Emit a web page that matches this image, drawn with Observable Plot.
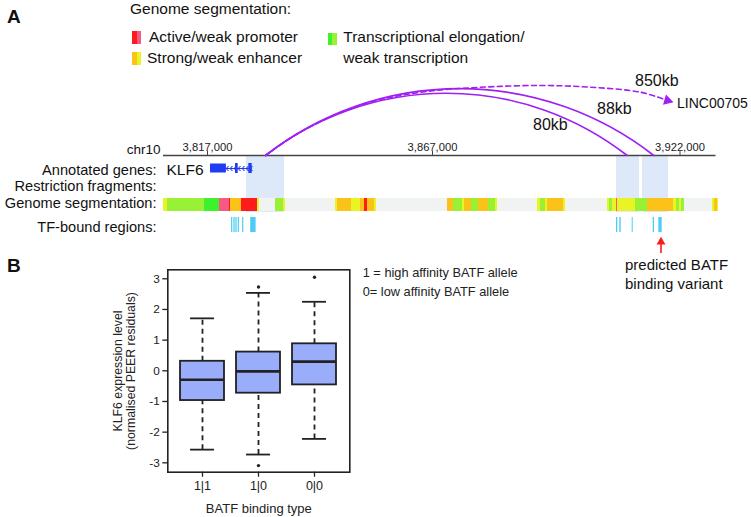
<!DOCTYPE html>
<html><head><meta charset="utf-8">
<script src="https://cdn.jsdelivr.net/npm/d3@7"></script>
<script src="https://cdn.jsdelivr.net/npm/@observablehq/plot@0.6"></script>
<style>
html,body{margin:0;padding:0;background:#fff;}
#root{position:relative;width:751px;height:517px;overflow:hidden;background:#fff;font-family:"Liberation Sans",Arial,Helvetica,sans-serif;}
#root svg{position:absolute;}
.lbl{position:absolute;white-space:nowrap;line-height:1;color:#111;}
</style></head><body><div id="root"></div>
<script>
// ================= DATA =================
// Panel A: genomic locus chr10
const chrom = "chr10";
const axisTicks = [3817000, 3867000, 3922000];
const viewStart = 3807222, viewEnd = 3930000;
const trackNames = ["Annotated genes:", "Restriction fragments:", "Genome segmentation:", "TF-bound regions:"];

const geneName = "KLF6";
const geneStart = 3817670, geneEnd = 3826930;
const exonStart = [3817670, 3823220, 3826180];
const exonEnd   = [3821200, 3823820, 3826930];

const fragStart = [3825670, 3907890, 3913670];
const fragEnd   = [3834110, 3913000, 3919440];

const segStart = [3807160,3808040,3816330,3819730,3821890,3822110,3824560,3828040,3828560,3832110,3833960,3834400,3845440,3845960,3849000,3851000,3851960,3852490,3854180,3854490,3870270,3871730,3873600,3874180,3875670,3877290,3879380,3881000,3881440,3890400,3891000,3892110,3892490,3896040,3896560,3905820,3906330,3906930,3907890,3908180,3912110,3914710,3920490,3921220,3921960,3922270,3923000,3929160,3929670,3930300];
const segEnd   = [3808040,3816330,3819730,3821890,3822110,3824560,3828040,3828560,3832110,3833960,3834400,3845440,3845960,3849000,3851000,3851960,3852490,3854180,3854490,3870270,3871730,3873600,3874180,3875670,3877290,3879380,3881000,3881440,3890400,3891000,3892110,3892490,3896040,3896560,3905820,3906330,3906930,3907890,3908180,3912110,3914710,3920490,3921220,3921960,3922270,3923000,3929160,3929670,3930300,3930560];
const segState = ["EW","TW","T","PW","PA","ES","PA","EW","Q","TW","EW","Q","EW","ES","EW","ES","PA","ES","EW","Q","ES","TW","EW","ES","TW","ES","TW","EW","Q","EW","TW","EW","ES","EW","Q","EW","TW","EW","PW","EW","TW","ES","EW","TW","EW","TW","Q","EW","ES","EW"];
const stateCodes  = ["PA","PW","ES","EW","T","TW","Q"];
const stateColors = ["#fe1b1b","#f65a84","#fbc31a","#e9f424","#3df22c","#98f135","#f1f3f3"];

const tfStart = [3822350,3822870,3823310,3823830,3824800,3826600,3907890,3908620,3911380,3916040,3917290];
const tfEnd   = [3822620,3823140,3823580,3824100,3825070,3827800,3908180,3908930,3911600,3916330,3918040];

const linkStart = 3829890;
const linkEnd   = [3910270, 3916180];
const linkLabels = ["80kb", "88kb"];
// dashed long-range link (850kb, leaves the view): path
const longLinkX = [3829890, 3837670, 3851000, 3864330, 3877670, 3891000, 3902110, 3913220, 3919220];
const longLinkH = [155, 131.5, 104.6, 91.8, 86.8, 85, 86.7, 91.7, 100];
const longLinkLabel = "850kb";
const longLinkTarget = "LINC00705";
const variantPos = 3917780;
const variantLabel = ["predicted BATF", "binding variant"];

const legendTitle = "Genome segmentation:";
const legendLabels = ["Active/weak promoter", "Strong/weak enhancer", "Transcriptional elongation/\nweak transcription"];
const legendStates = [["PA","PW"], ["ES","EW"], ["T","TW"]];

// Panel B: boxplot
const categories  = ["1|1", "1|0", "0|0"];
const whiskerLow  = [-2.57, -2.73, -2.22];
const quartile1   = [-0.97, -0.73, -0.46];
const medians     = [-0.29, -0.02, 0.30];
const quartile3   = [0.31, 0.61, 0.88];
const whiskerHigh = [1.71, 2.54, 2.25];
const outlierGroup = ["1|0", "1|0", "0|0"];
const outlierValue = [2.73, -3.09, 3.05];
const yTicks = [-3, -2, -1, 0, 1, 2, 3];
const yLabelLines = ["KLF6 expression level", "(normalised PEER residuals)"];
const xLabel = "BATF binding type";
const alleleNotes = ["1 = high affinity BATF allele", "0= low affinity BATF allele"];

// ================= LAYOUT / STYLE =================
const FONT = '"Liberation Sans", Arial, Helvetica, sans-serif';
const PURPLE = "#a01ff2";
const LA = {axisY:155, tickTop:151, tickLabelY:150.5, geneY:168, geneTop:163.5, geneBottom:172.5, exonTop:163, exonBottom:173,
  fragTop:156, fragBottom:212, segTop:198, segBottom:211, tfTop:217, tfBottom:232,
  trackLabelY:[174, 190.7, 207.3, 231], varTipY:241.5, varBottomY:253};

const root = document.getElementById("root");
function addText(txt, x, baseline, size, o = {}) {
  const d = document.createElement("div");
  d.className = "lbl";
  d.textContent = txt;
  d.style.fontSize = size + "px";
  d.style.top = (baseline - 0.8465 * size) + "px";
  if (o.weight) d.style.fontWeight = o.weight;
  if (o.color) d.style.color = o.color;
  if (o.anchor === "end") d.style.right = (751 - x) + "px";
  else if (o.anchor === "middle") { d.style.left = x + "px"; d.style.transform = "translateX(-50%)"; }
  else d.style.left = x + "px";
  root.appendChild(d);
  return d;
}
function addSwatch(x, y, colors) {
  colors.forEach((c, i) => {
    const s = document.createElement("div");
    s.style.cssText = `position:absolute;left:${x + i * 4.6}px;top:${y}px;width:4.6px;height:12.6px;background:${c}`;
    root.appendChild(s);
  });
}
const colorOf = s => stateColors[stateCodes.indexOf(s)];

// ================= PANEL A =================
const segData = segStart.map((s, i) => ({start: s, end: segEnd[i], state: segState[i]}));
const fragData = fragStart.map((s, i) => ({start: s, end: fragEnd[i]}));
const tfData = tfStart.map((s, i) => ({start: s, end: tfEnd[i]}));
const exonData = exonStart.map((s, i) => ({start: s, end: exonEnd[i], thick: i === 0}));
const linkData = linkEnd.map((e, i) => ({start: linkStart, end: e, label: linkLabels[i]}));
const longPath = longLinkX.map((x, i) => ({x, h: longLinkH[i]}));
const longTip = [longPath[longPath.length - 1]];

const plotA = Plot.plot({
  width: 751, height: 300, margin: 0,
  x: {domain: [viewStart, viewEnd], range: [163, 715.5], axis: null},
  y: {type: "linear", domain: [0, 300], range: [0, 300], axis: null},
  style: {background: "transparent", overflow: "visible", fontFamily: FONT},
  marks: [
    Plot.rect(fragData, {x1: "start", x2: "end", y1: LA.fragTop, y2: LA.fragBottom, fill: "#dde8f9"}),
    Plot.ruleY([LA.axisY], {x1: viewStart, x2: viewEnd, stroke: "#444", strokeWidth: 1.3}),
    Plot.ruleX(axisTicks, {x: d => d, y1: LA.tickTop, y2: LA.axisY, stroke: "#444", strokeWidth: 1}),
    Plot.text(axisTicks, {x: d => d, y: LA.tickLabelY, text: d => d3.format(",")(d), fontSize: 11.2, lineAnchor: "bottom", fill: "#222"}),
    Plot.text([chrom], {x: viewStart, y: 153, dx: -3, textAnchor: "end", lineAnchor: "bottom", fontSize: 13.5, fill: "#111"}),
    Plot.arrow(linkData, {x1: "start", x2: "end", y1: LA.axisY, y2: LA.axisY, bend: 38, headLength: 0, stroke: PURPLE, strokeWidth: 1.6}),
    Plot.line(longPath, {x: "x", y: "h", curve: "catmull-rom", stroke: PURPLE, strokeWidth: 1.6, strokeDasharray: "5,3.5"}),
    Plot.dot(longTip, {x: "x", y: "h", symbol: "triangle", r: 4, rotate: 106, fill: PURPLE, stroke: "none"}),
    // gene
    Plot.ruleY([LA.geneY], {x1: geneStart, x2: geneEnd, stroke: "#1f3cf0", strokeWidth: 1.2}),
    Plot.rect(exonData, {x1: "start", x2: "end", y1: d => d.thick ? LA.geneTop : LA.exonTop, y2: d => d.thick ? LA.geneBottom : LA.exonBottom, fill: "#1f3cf0"}),
    Plot.text(["‹‹‹‹‹‹‹"], {x: (exonEnd[0] + geneEnd) / 2, y: LA.geneY, fontSize: 12, fill: "#1f3cf0"}),
    Plot.text([geneName], {x: geneStart, y: 174.3, dx: -7, textAnchor: "end", lineAnchor: "bottom", fontSize: 15.5, fill: "#111"}),
    // segmentation
    Plot.rect(segData, {x1: "start", x2: "end", y1: LA.segTop, y2: LA.segBottom, fill: d => colorOf(d.state), shapeRendering: "crispEdges"}),
    // TF
    Plot.rect(tfData, {x1: "start", x2: "end", y1: LA.tfTop, y2: LA.tfBottom, fill: "#4dcdf4"}),
    // variant arrow
    Plot.ruleX([variantPos], {x: d => d, y1: LA.varTipY + 2, y2: LA.varBottomY, stroke: "#ff1a1a", strokeWidth: 1.6}),
    Plot.dot([variantPos], {x: d => d, y: LA.varTipY, symbol: "triangle", r: 3.3, fill: "#ff1a1a", stroke: "none"}),
    // track labels
    Plot.text(trackNames, {x: viewStart, y: (d, i) => LA.trackLabelY[i], dx: -7, textAnchor: "end", lineAnchor: "bottom", fontSize: 14.6, fill: "#111"})
  ]
});
plotA.style.left = "0px"; plotA.style.top = "0px";
root.appendChild(plotA);

// ================= PANEL B =================
const boxData = categories.map((c, i) => ({cat: c, lo: whiskerLow[i], q1: quartile1[i], med: medians[i], q3: quartile3[i], hi: whiskerHigh[i]}));
const outliers = outlierGroup.map((g, i) => ({cat: g, v: outlierValue[i]}));
const BK = "#222";
const plotB = Plot.plot({
  width: 751, height: 267,
  marginLeft: 167.3, marginRight: 401.7, marginTop: 19.3, marginBottom: 45.3,
  x: {domain: categories, paddingInner: 0.214, paddingOuter: 0.232, axis: null},
  y: {domain: [-3.306, 3.293], axis: null},
  style: {background: "transparent", overflow: "visible", fontFamily: FONT, color: BK},
  marks: [
    Plot.ruleX(boxData, {x: "cat", y1: "q3", y2: "hi", stroke: BK, strokeWidth: 1.8, strokeDasharray: "5,4"}),
    Plot.ruleX(boxData, {x: "cat", y1: "lo", y2: "q1", stroke: BK, strokeWidth: 1.8, strokeDasharray: "5,4"}),
    Plot.tickY(boxData, {x: "cat", y: "hi", insetLeft: 10, insetRight: 10, stroke: BK, strokeWidth: 1.8}),
    Plot.tickY(boxData, {x: "cat", y: "lo", insetLeft: 10, insetRight: 10, stroke: BK, strokeWidth: 1.8}),
    Plot.barY(boxData, {x: "cat", y1: "q1", y2: "q3", fill: "#99adfb", stroke: BK, strokeWidth: 1.8}),
    Plot.tickY(boxData, {x: "cat", y: "med", stroke: BK, strokeWidth: 2.6}),
    Plot.dot(outliers, {x: "cat", y: "v", r: 1.7, fill: BK, stroke: "none"}),
    Plot.frame({stroke: BK, strokeWidth: 1.6}),
    Plot.axisY({ticks: yTicks, tickSize: 5, tickPadding: 3, fontSize: 11.8, label: null, tickFormat: d => String(d), stroke: BK, strokeWidth: 1.3}),
    Plot.axisX({tickSize: 5, tickPadding: 4, fontSize: 12.5, label: null, stroke: BK, strokeWidth: 1.3}),
    Plot.text([xLabel], {frameAnchor: "bottom", dy: 40.3, lineAnchor: "bottom", fontSize: 13, fill: BK}),
    Plot.text([yLabelLines[0]], {frameAnchor: "left", textAnchor: "middle", dx: -50, rotate: -90, fontSize: 12.3, fill: BK}),
    Plot.text([yLabelLines[1]], {frameAnchor: "left", textAnchor: "middle", dx: -37, rotate: -90, fontSize: 12.3, fill: BK})
  ]
});
plotB.style.left = "0px"; plotB.style.top = "250px";
root.appendChild(plotB);

// ================= FREE TEXT =================
addText("A", 7, 23, 19, {weight: "bold"});
addText("B", 7, 272, 19, {weight: "bold"});
addText(legendTitle, 130, 14.5, 15.5);
addSwatch(132.3, 31, legendStates[0].map(colorOf));
addText(legendLabels[0], 149, 42, 15.5);
addSwatch(132.3, 52, legendStates[1].map(colorOf));
addText(legendLabels[1], 147, 63.5, 15.5);
addSwatch(327.7, 32.7, legendStates[2].map(colorOf));
legendLabels[2].split("\n").forEach((t, i) => addText(t, 343.3, 42.5 + i * 20.5, 15.5));
addText(linkLabels[0], 533, 131, 16);
addText(linkLabels[1], 597, 115, 16);
addText(longLinkLabel, 635, 87, 16);
addText(longLinkTarget, 677, 107.5, 14);
addText(variantLabel[0], 625, 270, 15);
addText(variantLabel[1], 625, 288.3, 15);
addText(alleleNotes[0], 362.7, 278, 12.8, {color: BK});
addText(alleleNotes[1], 362.7, 296.7, 12.8, {color: BK});
</script>
</body></html>
